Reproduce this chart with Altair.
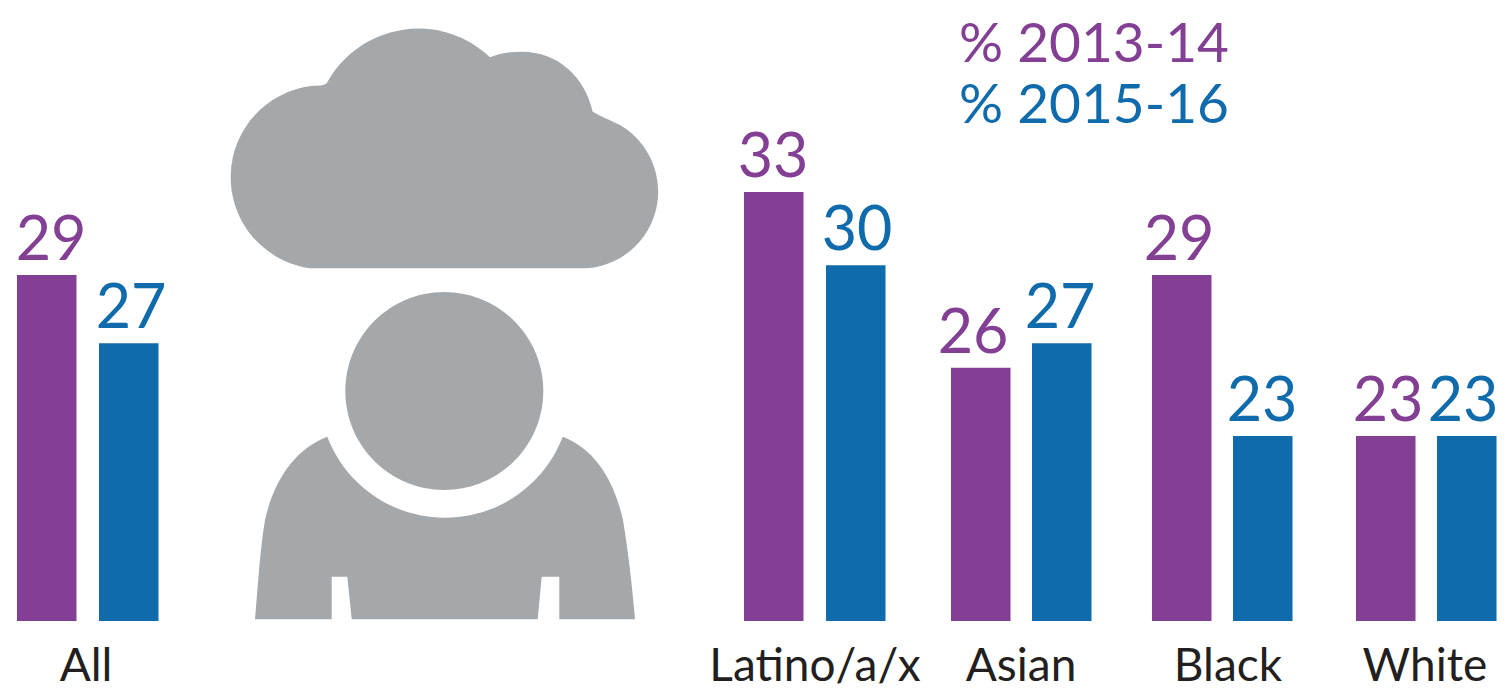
import altair as alt
import pandas as pd

# ---- values ----
GROUPS = ["All", "Latino/a/x", "Asian", "Black", "White"]
SERIES = ["% 2013-14", "% 2015-16"]
LABELS_1314 = [29, 33, 26, 29, 23]
LABELS_1516 = [27, 30, 27, 23, 23]
# bar heights as drawn (the source's bars are not strictly proportional to its labels)
HEIGHTS_1314 = [29.6, 33.0, 25.8, 29.6, 23.0]
HEIGHTS_1516 = [26.8, 30.0, 26.8, 23.0, 23.0]

# ---- layout (separate from the values), in reference pixels ----
BAR_LEFT_1314 = [17, 744, 951, 1152, 1356]
BAR_LEFT_1516 = [99, 826, 1032, 1233, 1437]
BAR_W = 59.5
LABEL_X_1314 = [51, 773, 973, 1179, 1388]
LABEL_X_1516 = [131, 857, 1060, 1262, 1463]
GROUP_X = [86, 815, 1021, 1228, 1425]

PURPLE = "#823F93"
BLUE = "#0F6BAB"
GRAY = "#A5A8AA"
INK = "#231F20"
FONT = "Lato"

rows = []
for i, g in enumerate(GROUPS):
    rows.append(dict(group=g, series=SERIES[0], h=HEIGHTS_1314[i], label=LABELS_1314[i],
                     x0=BAR_LEFT_1314[i], x1=BAR_LEFT_1314[i] + BAR_W, lx=LABEL_X_1314[i]))
    rows.append(dict(group=g, series=SERIES[1], h=HEIGHTS_1516[i], label=LABELS_1516[i],
                     x0=BAR_LEFT_1516[i], x1=BAR_LEFT_1516[i] + BAR_W, lx=LABEL_X_1516[i]))
df = pd.DataFrame(rows)
df["base"] = 15.42

xs = alt.Scale(domain=[8, 1500], range=[0, 1492])
ys = alt.Scale(domain=[12.55, 40.54], range=[683, 0])
cs = alt.Scale(domain=SERIES, range=[PURPLE, BLUE])

bars = alt.Chart(df).mark_bar(stroke=None).encode(
    x=alt.X("x0:Q", scale=xs, axis=None),
    x2="x1:Q",
    y=alt.Y("h:Q", scale=ys, axis=None),
    y2="base:Q",
    color=alt.Color("series:N", scale=cs, legend=None),
)

values = alt.Chart(df).mark_text(font=FONT, fontWeight=400, fontSize=61, baseline="alphabetic", dy=-15).encode(
    x=alt.X("lx:Q", scale=xs, axis=None),
    y=alt.Y("h:Q", scale=ys, axis=None),
    text="label:N",
    color=alt.Color("series:N", scale=cs, legend=None),
)

gdf = pd.DataFrame({"group": GROUPS, "gx": GROUP_X})
cats = alt.Chart(gdf).mark_text(font=FONT, fontWeight=400, fontSize=46, baseline="alphabetic", color=INK).encode(
    x=alt.X("gx:Q", scale=xs, axis=None),
    y=alt.value(673),
    text="group:N",
)

leg1 = alt.Chart(pd.DataFrame({"t": [SERIES[0]]})).mark_text(
    font=FONT, fontWeight=400, fontSize=55, align="left", baseline="alphabetic", color=PURPLE
).encode(x=alt.value(951), y=alt.value(54), text="t:N")
leg2 = alt.Chart(pd.DataFrame({"t": [SERIES[1]]})).mark_text(
    font=FONT, fontWeight=400, fontSize=55, align="left", baseline="alphabetic", color=BLUE
).encode(x=alt.value(951), y=alt.value(115), text="t:N")

CLOUD = ("M326.7 83.3 A104 104 0 0 1 490 57.3 C500 53 510 51.7 522 51.7 "
         "C558 51.7 585 77 592.7 111.7 C600 116 610 120 620 125 A77 77 0 0 1 586.7 268.3 "
         "L310 268.3 A92 92 0 0 1 313 85.7 C320 85.7 323 86 326.7 83.3 Z")
HEAD = "M345.3 391 A99 99 0 1 1 543.3 391 A99 99 0 1 1 345.3 391 Z"
BODY = ("M327.3 436.7 A126 126 0 0 0 562.7 436.7 C595 449 614 480 623 520 C628 550 632 585 635 619.3 "
        "L559.3 619.3 L559.3 576.7 L541.7 576.7 L537.7 619.3 L351.7 619.3 L347.3 576.7 L331.7 576.7 "
        "L331.7 619.3 L255 619.3 C258 585 260 550 265 520 C274 480 295 449 327.3 436.7 Z")

one = pd.DataFrame({"k": [1]})
icons = [
    alt.Chart(one).mark_point(shape=p, size=4, filled=True, color=GRAY, opacity=1, strokeWidth=0).encode(
        x=alt.value(-8), y=alt.value(-8)
    )
    for p in (CLOUD, HEAD, BODY)
]

chart = alt.layer(*icons, bars, values, cats, leg1, leg2).properties(
    width=1492, height=683, padding=0, autosize=alt.AutoSizeParams(type="none"), background="white"
).configure_view(stroke=None)

chart.save("out.html", embed_options={"renderer": "svg", "actions": False})
